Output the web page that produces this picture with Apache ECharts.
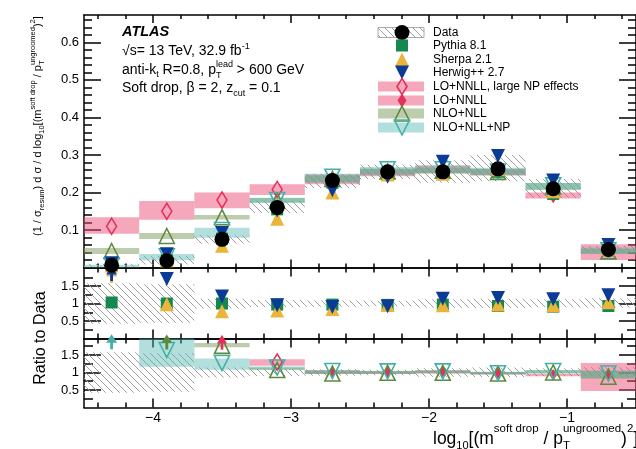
<!DOCTYPE html>
<html><head><meta charset="utf-8">
<script src="https://cdn.jsdelivr.net/npm/echarts@6/dist/echarts.min.js"></script>
<style>html,body{margin:0;padding:0;background:#fff}#c{width:636px;height:449px}</style>
</head><body><div id="c"></div><script>
// ---------------- data ----------------
const binLo = [-4.5,-4.1,-3.7,-3.3,-2.9,-2.5,-2.1,-1.7,-1.3,-0.9];
const binHi = [-4.1,-3.7,-3.3,-2.9,-2.5,-2.1,-1.7,-1.3,-0.9,-0.5];
const binCenter = [-4.3,-3.9,-3.5,-3.1,-2.7,-2.3,-1.9,-1.5,-1.1,-0.7];

const xMajorTicks = [-4,-3,-2,-1];
const xMinorTicks = [-4.4,-4.2,-3.8,-3.6,-3.4,-3.2,-2.8,-2.6,-2.4,-2.2,-1.8,-1.6,-1.4,-1.2,-0.8,-0.6];
const yTopMajor = [0.1,0.2,0.3,0.4,0.5,0.6];
const yTopMinor = [0.02,0.04,0.06,0.08,0.12,0.14,0.16,0.18,0.22,0.24,0.26,0.28,0.32,0.34,0.36,0.38,0.42,0.44,0.46,0.48,0.52,0.54,0.56,0.58,0.62,0.64,0.66];
const yRatioMajor = [0.5,1,1.5];
const yRatioMinor = [0.25,0.75,1.25,1.75];

// top panel
const dataY      = [0.006,0.018,0.075,0.160,0.232,0.255,0.255,0.263,0.210,0.048];
const dataBandLo = [0.002,0.008,0.064,0.145,0.212,0.236,0.226,0.230,0.186,0.040];
const dataBandHi = [0.010,0.031,0.086,0.178,0.250,0.274,0.286,0.300,0.236,0.057];
const pythiaY = [0.007,0.019,0.077,0.155,0.226,0.248,0.250,0.255,0.196,0.046];
const sherpaY = [0.005,0.019,0.058,0.130,0.200,0.248,0.250,0.262,0.203,0.050];
const herwigY = [0.011,0.035,0.092,0.152,0.206,0.242,0.282,0.297,0.232,0.060];

const loNnllNpY  = [0.110,0.150,0.180,0.208,null,null,null,null,null,null];
const loNnllNpLo = [0.090,0.127,0.158,0.193,null,null,null,null,null,null];
const loNnllNpHi = [0.134,0.177,0.200,0.222,null,null,null,null,null,null];
const loNnllY  = [null,null,null,null,0.235,0.252,0.262,0.255,0.190,0.042];
const loNnllLo = [null,null,null,null,0.222,0.243,0.252,0.245,0.184,0.020];
const loNnllHi = [null,null,null,null,0.248,0.262,0.272,0.262,0.200,0.062];
const nloNllY  = [0.044,0.084,0.134,0.178,0.236,0.256,0.258,0.255,0.216,0.043];
const nloNllLo = [0.036,0.076,0.128,0.173,0.228,0.248,0.250,0.247,0.207,0.036];
const nloNllHi = [0.052,0.092,0.140,0.185,0.245,0.264,0.266,0.263,0.225,0.050];
const nloNllNpY  = [0.006,0.030,0.100,0.180,0.242,0.262,0.262,0.256,0.219,0.046];
const nloNllNpLo = [0.000,0.019,0.079,0.172,0.225,0.246,0.252,0.246,0.207,0.037];
const nloNllNpHi = [0.007,0.036,0.106,0.186,0.250,0.268,0.272,0.266,0.225,0.053];

// middle panel: MC / data
const dataRLo = [0.42,0.45,0.86,0.90,0.91,0.92,0.88,0.87,0.89,0.88];
const dataRHi = [1.58,1.55,1.14,1.10,1.09,1.08,1.12,1.14,1.12,1.15];
const pythiaR = [1.03,1.00,1.00,0.97,0.97,0.96,0.97,0.93,0.91,0.93];
const sherpaR = [null,0.98,0.78,0.80,0.84,0.96,0.95,0.97,0.95,1.04];
const herwigR = [null,1.70,1.20,0.95,0.90,0.92,1.14,1.16,1.12,1.24];
const sherpaArrow = [1.80,null,null,null,null,null,null,null,null,null];
const herwigArrow = [1.86,null,null,null,null,null,null,null,null,null];

// bottom panel: theory / data
const loNnllNpR   = [null,null,null,1.30,null,null,null,null,null,null];
const loNnllNpRLo = [null,null,null,1.19,null,null,null,null,null,null];
const loNnllNpRHi = [null,null,null,1.38,null,null,null,null,null,null];
const loNnllNpArrow = [null,null,1.86,null,null,null,null,null,null,null];
const loNnllR   = [null,null,null,null,1.00,1.00,1.02,0.98,0.93,0.95];
const loNnllRLo = [null,null,null,null,0.96,0.96,0.98,0.94,0.89,0.47];
const loNnllRHi = [null,null,null,null,1.06,1.03,1.06,1.01,0.96,1.27];
const nloNllR   = [null,null,1.76,1.07,0.97,0.99,0.99,0.97,1.00,0.88];
const nloNllRLo = [null,null,1.72,1.07,0.96,0.96,0.97,0.95,0.97,0.82];
const nloNllRHi = [null,null,1.84,1.14,1.05,1.04,1.05,1.01,1.06,1.05];
const nloNllArrow = [null,1.87,null,null,null,null,null,null,null,null];
const nloNllNpR   = [null,1.64,1.27,1.14,1.04,1.03,1.03,0.98,1.04,0.97];
const nloNllNpRLo = [null,1.16,1.08,1.09,0.97,0.98,0.99,0.95,0.98,0.85];
const nloNllNpRHi = [null,2.10,1.40,1.17,1.07,1.05,1.06,1.02,1.07,1.05];
const nloNllNpArrow = [1.88,null,null,null,null,null,null,null,null,null];

// ---------------- style ----------------
const FF = '"Liberation Sans", Arial, Helvetica, sans-serif';
const COL = {
  pythia:'#14884e', sherpa:'#e9b53b', herwig:'#0c3b96', red:'#e5305a',
  nlo:'#5d8a3c', np:'#45b0aa',
  pinkBand:'rgba(236,82,122,0.5)', oliveBand:'rgba(122,154,92,0.5)', tealBand:'rgba(84,182,176,0.45)'
};
function makeHatch(){
  const n = 7;
  const c = document.createElement('canvas'); c.width = n; c.height = n;
  const g = c.getContext('2d'); g.strokeStyle = '#a0a0a0'; g.lineWidth = 1;
  g.beginPath(); g.moveTo(0,0); g.lineTo(n,n); g.moveTo(-1,n-1); g.lineTo(1,n+1); g.moveTo(n-1,-1); g.lineTo(n+1,1); g.stroke();
  return c;
}
const hatchCanvas = makeHatch();
const hatchFill = {image: hatchCanvas, repeat:'repeat'};

const grids = [
  {left:84, right:0, top:15, height:252.5},
  {left:84, right:0, top:267.5, height:71},
  {left:84, right:0, top:338.5, height:69}
];
const yRanges = [[0,0.673],[0,2.03],[0,1.97]];
const xTickLen = [[8,4],[9,5],[9,5]];
const yTickLen = [[17,8],[17,9],[17,9]];

const xAxes = [], yAxes = [];
const lineS = {color:'#000', width:1.5};
for (let g = 0; g < 3; g++) {
  const base = {gridIndex:g, type:'value', min:-4.5, max:-0.5, splitLine:{show:false}};
  ['bottom','top'].forEach(pos => {
    xAxes.push(Object.assign({}, base, {position:pos,
      axisLine:{show:true, onZero:false, lineStyle:lineS},
      axisTick:{show:true, inside:true, length:xTickLen[g][0], customValues:xMajorTicks, lineStyle:lineS},
      axisLabel:{show: g===2 && pos==='bottom', customValues:xMajorTicks, margin:4, color:'#000', fontSize:14, fontFamily:FF,
        formatter: v => (v<0 ? '\u2212' + (-v) : '' + v)}}));
    xAxes.push(Object.assign({}, base, {position:pos,
      axisLine:{show:false, onZero:false},
      axisTick:{show:true, inside:true, length:xTickLen[g][1], customValues:xMinorTicks, lineStyle:lineS},
      axisLabel:{show:false}}));
  });
  const maj = g===0 ? yTopMajor : yRatioMajor;
  const mnr = g===0 ? yTopMinor : yRatioMinor;
  const yb = {gridIndex:g, type:'value', min:yRanges[g][0], max:yRanges[g][1], splitLine:{show:false}};
  ['left','right'].forEach(pos => {
    yAxes.push(Object.assign({}, yb, {position:pos,
      axisLine:{show:true, onZero:false, lineStyle:lineS},
      axisTick:{show:true, inside:true, length:yTickLen[g][0], customValues:maj, lineStyle:lineS},
      axisLabel:{show: pos==='left', customValues:maj, margin:5, color:'#000', fontSize:13, fontFamily:FF,
        formatter: v => g===0 ? v.toFixed(1) : String(v)}}));
    yAxes.push(Object.assign({}, yb, {position:pos,
      axisLine:{show:false, onZero:false},
      axisTick:{show:true, inside:true, length:yTickLen[g][1], customValues:mnr, lineStyle:lineS},
      axisLabel:{show:false}}));
  });
}

// ---------------- series helpers ----------------
function band(g, lo, hi, fill, z, stroke) {
  const d = [];
  for (let i = 0; i < binLo.length; i++) if (lo[i] != null) d.push([binLo[i], binHi[i], lo[i], hi[i]]);
  return {type:'custom', xAxisIndex:4*g, yAxisIndex:4*g, z:z, silent:true, data:d,
    encode:{x:[0,1], y:[2,3]},
    renderItem:(params, api) => {
      const p1 = api.coord([api.value(0), api.value(3)]);
      const p2 = api.coord([api.value(1), api.value(2)]);
      const cs = params.coordSys;
      const r = echarts.graphic.clipRectByRect(
        {x:p1[0], y:p1[1], width:p2[0]-p1[0], height:p2[1]-p1[1]},
        {x:cs.x, y:cs.y, width:cs.width, height:cs.height});
      if (!r) return null;
      return {type:'rect', shape:r, style:{fill:fill, stroke:stroke||null, lineWidth:stroke?1:0}};
    }};
}
function pts(arr) {
  const d = [];
  for (let i = 0; i < binCenter.length; i++) if (arr[i] != null) d.push([binCenter[i], arr[i]]);
  return d;
}
function marks(g, arr, symbol, size, style, z, rotate) {
  return {type:'scatter', xAxisIndex:4*g, yAxisIndex:4*g, z:z, silent:true, data:pts(arr),
    symbol:symbol, symbolSize:size, symbolRotate:rotate||0, itemStyle:style, clip:true};
}
const filled = c => ({color:c, opacity:1});
const open = c => ({color:'rgba(255,255,255,0)', borderColor:c, borderWidth:1.6, opacity:1});
const ARROW = 'path://M0,0 L5,8 L1.3,8 L1.3,14 L-1.3,14 L-1.3,8 L-5,8 Z';

const series = [];
// top panel
series.push(band(0, dataBandLo, dataBandHi, hatchFill, 1));
series.push(band(0, loNnllNpLo, loNnllNpHi, COL.pinkBand, 2));
series.push(band(0, loNnllLo, loNnllHi, COL.pinkBand, 2));
series.push(band(0, nloNllLo, nloNllHi, COL.oliveBand, 2));
series.push(band(0, nloNllNpLo, nloNllNpHi, COL.tealBand, 2));
series.push(marks(0, loNnllNpY, 'diamond', [10,16], open(COL.red), 3));
series.push(marks(0, loNnllY, 'diamond', [9,14], filled(COL.red), 3));
series.push(marks(0, nloNllY, 'triangle', 15, open(COL.nlo), 3));
series.push(marks(0, nloNllNpY, 'triangle', 15, open(COL.np), 3, 180));
series.push(marks(0, pythiaY, 'rect', 12, filled(COL.pythia), 4));
series.push(marks(0, sherpaY, 'triangle', 14, filled(COL.sherpa), 4));
series.push(marks(0, herwigY, 'triangle', 14, filled(COL.herwig), 4, 180));
series.push(marks(0, dataY, 'circle', 15, filled('#000'), 5));
// middle panel
series.push(band(1, dataRLo, dataRHi, hatchFill, 1));
series.push(marks(1, pythiaR, 'rect', 12, filled(COL.pythia), 4));
series.push(marks(1, sherpaR, 'triangle', 14, filled(COL.sherpa), 4));
series.push(marks(1, herwigR, 'triangle', 14, filled(COL.herwig), 4, 180));
series.push(marks(1, sherpaArrow, ARROW, [11,15], filled(COL.sherpa), 4));
series.push(marks(1, herwigArrow, ARROW, [11,15], filled(COL.herwig), 4));
// bottom panel
series.push(band(2, dataRLo, dataRHi, hatchFill, 1));
series.push(band(2, loNnllNpRLo, loNnllNpRHi, COL.pinkBand, 2));
series.push(band(2, loNnllRLo, loNnllRHi, COL.pinkBand, 2));
series.push(band(2, nloNllRLo, nloNllRHi, COL.oliveBand, 2));
series.push(band(2, nloNllNpRLo, nloNllNpRHi, COL.tealBand, 2));
series.push(marks(2, loNnllNpR, 'diamond', [10,16], open(COL.red), 3));
series.push(marks(2, loNnllR, 'diamond', [7,12], filled(COL.red), 3));
series.push(marks(2, nloNllR, 'triangle', 15, open(COL.nlo), 3));
series.push(marks(2, nloNllNpR, 'triangle', 15, open(COL.np), 3, 180));
series.push(marks(2, loNnllNpArrow, ARROW, [10,15], filled(COL.red), 3));
series.push(marks(2, nloNllArrow, ARROW, [11,15], filled(COL.nlo), 3));
series.push(marks(2, nloNllNpArrow, ARROW, [11,15], filled(COL.np), 3));

// ---------------- text layout helpers ----------------
const mctx = document.createElement('canvas').getContext('2d');
function fnt(s, w, st) { return (st||'normal') + ' ' + (w||'normal') + ' ' + s + 'px ' + FF; }
function tw(t, s, w, st) { mctx.font = fnt(s, w, st); return mctx.measureText(t).width; }
function T(x, base, t, s, w, st) {
  return {type:'text', x:x, y:base - 0.35*s, silent:true,
    style:{text:t, font:fnt(s, w, st), fill:'#000', align:'left', verticalAlign:'middle'}};
}
function layout(x0, base, segs) {
  const els = []; let x = x0;
  segs.forEach(sg => {
    if (sg.sup !== undefined) {
      els.push(T(x, base + sg.up, sg.sup, sg.s));
      els.push(T(x, base + sg.dn, sg.sub, sg.s));
      x += Math.max(tw(sg.sup, sg.s), tw(sg.sub, sg.s));
    } else {
      els.push(T(x, base + (sg.dy||0), sg.t, sg.s, sg.w, sg.st));
      x += tw(sg.t, sg.s, sg.w, sg.st);
    }
  });
  return els;
}

const graphics = [];
// ATLAS label block
const LX = 122;
graphics.push(...layout(LX, 37, [{t:'ATLAS', s:14.5, w:'bold', st:'italic'}]));
graphics.push(...layout(LX, 56, [{t:'\u221As= 13 TeV, 32.9 fb', s:14}, {t:'-1', s:9, dy:-6}]));
graphics.push(...layout(LX, 75, [{t:'anti-k', s:14}, {t:'t', s:9, dy:3}, {t:' R=0.8, p', s:14},
  {sup:'lead', sub:'T', s:9, up:-7, dn:4}, {t:' > 600 GeV', s:14}]));
graphics.push(...layout(LX, 93, [{t:'Soft drop, \u03B2 = 2, z', s:14}, {t:'cut', s:9, dy:4}, {t:' = 0.1', s:14}]));

// legend
const legBase = [37,50,64,77,91,105,118,132];
const legText = ['Data','Pythia 8.1','Sherpa 2.1','Herwig++ 2.7','LO+NNLL, large NP effects','LO+NNLL','NLO+NLL','NLO+NLL+NP'];
const LMX = 402, LBX = 378, LBW = 46, LTX = 433;
legText.forEach((t, i) => graphics.push(T(LTX, legBase[i], t, 12)));
const cy = legBase.map(b => b - 4.5);
function box(i, fill, stroke) {
  return {type:'rect', shape:{x:LBX, y:cy[i]-5, width:LBW, height:10}, silent:true,
    style:{fill:fill, stroke:stroke||null, lineWidth:stroke?1:0}};
}
function tri(cx, cyy, s, down, style) {
  const h = s/2;
  const p = down ? [[cx-h, cyy-h],[cx+h, cyy-h],[cx, cyy+h]] : [[cx, cyy-h],[cx+h, cyy+h],[cx-h, cyy+h]];
  return {type:'polygon', shape:{points:p}, style:style, silent:true};
}
function dia(cx, cyy, w, h, style) {
  return {type:'polygon', shape:{points:[[cx, cyy-h/2],[cx+w/2, cyy],[cx, cyy+h/2],[cx-w/2, cyy]]}, style:style, silent:true};
}
graphics.push(box(0, hatchFill, '#aaa'));
graphics.push({type:'circle', shape:{cx:LMX, cy:cy[0], r:7.5}, style:{fill:'#000'}, silent:true});
graphics.push({type:'rect', shape:{x:LMX-6, y:cy[1]-6, width:12, height:12}, style:{fill:COL.pythia}, silent:true});
graphics.push(tri(LMX, cy[2], 14, false, {fill:COL.sherpa}));
graphics.push(tri(LMX, cy[3], 14, true, {fill:COL.herwig}));
graphics.push(box(4, COL.pinkBand));
graphics.push(dia(LMX, cy[4], 10, 16, {fill:'none', stroke:COL.red, lineWidth:1.6}));
graphics.push(box(5, COL.pinkBand));
graphics.push(dia(LMX, cy[5], 9, 14, {fill:COL.red}));
graphics.push(box(6, COL.oliveBand));
graphics.push(tri(LMX, cy[6], 15, false, {fill:'none', stroke:COL.nlo, lineWidth:1.6}));
graphics.push(box(7, COL.tealBand));
graphics.push(tri(LMX, cy[7], 15, true, {fill:'none', stroke:COL.np, lineWidth:1.6}));

// x axis title
graphics.push(...layout(433, 445, [{t:'log', s:17.5}, {t:'10', s:11, dy:5}, {t:'[(m', s:17.5},
  {t:'soft drop', s:11.5, dy:-12}, {t:' / p', s:17.5}, {sup:'ungroomed', sub:'T', s:11.5, up:-12, dn:5},
  {t:')', s:17.5}, {t:'2', s:11.5, dy:-12}, {t:']', s:17.5}]));

// y axis titles (rotated)
graphics.push({type:'group', x:42, y:236, rotation:Math.PI/2, children: layout(0, 0, [
  {t:'(1 / \u03C3', s:11}, {t:'resum', s:7.5, dy:3}, {t:') d \u03C3 / d log', s:11}, {t:'10', s:7.5, dy:3},
  {t:'[(m', s:11}, {t:'soft drop', s:7.5, dy:-6}, {t:' / p', s:11},
  {sup:'ungroomed', sub:'T', s:7.5, up:-6, dn:3}, {t:')', s:11}, {t:'2', s:7.5, dy:-6}, {t:']', s:11}])});
const rtW = tw('Ratio to Data', 16);
graphics.push({type:'group', x:46, y:338 + rtW/2, rotation:Math.PI/2, children: layout(0, 0, [{t:'Ratio to Data', s:16}])});

const chart = echarts.init(document.getElementById('c'), null, {renderer:'canvas'});
chart.setOption({
  animation:false,
  backgroundColor:'#fff',
  grid:grids,
  xAxis:xAxes,
  yAxis:yAxes,
  series:series,
  graphic:graphics
});
</script></body></html>
